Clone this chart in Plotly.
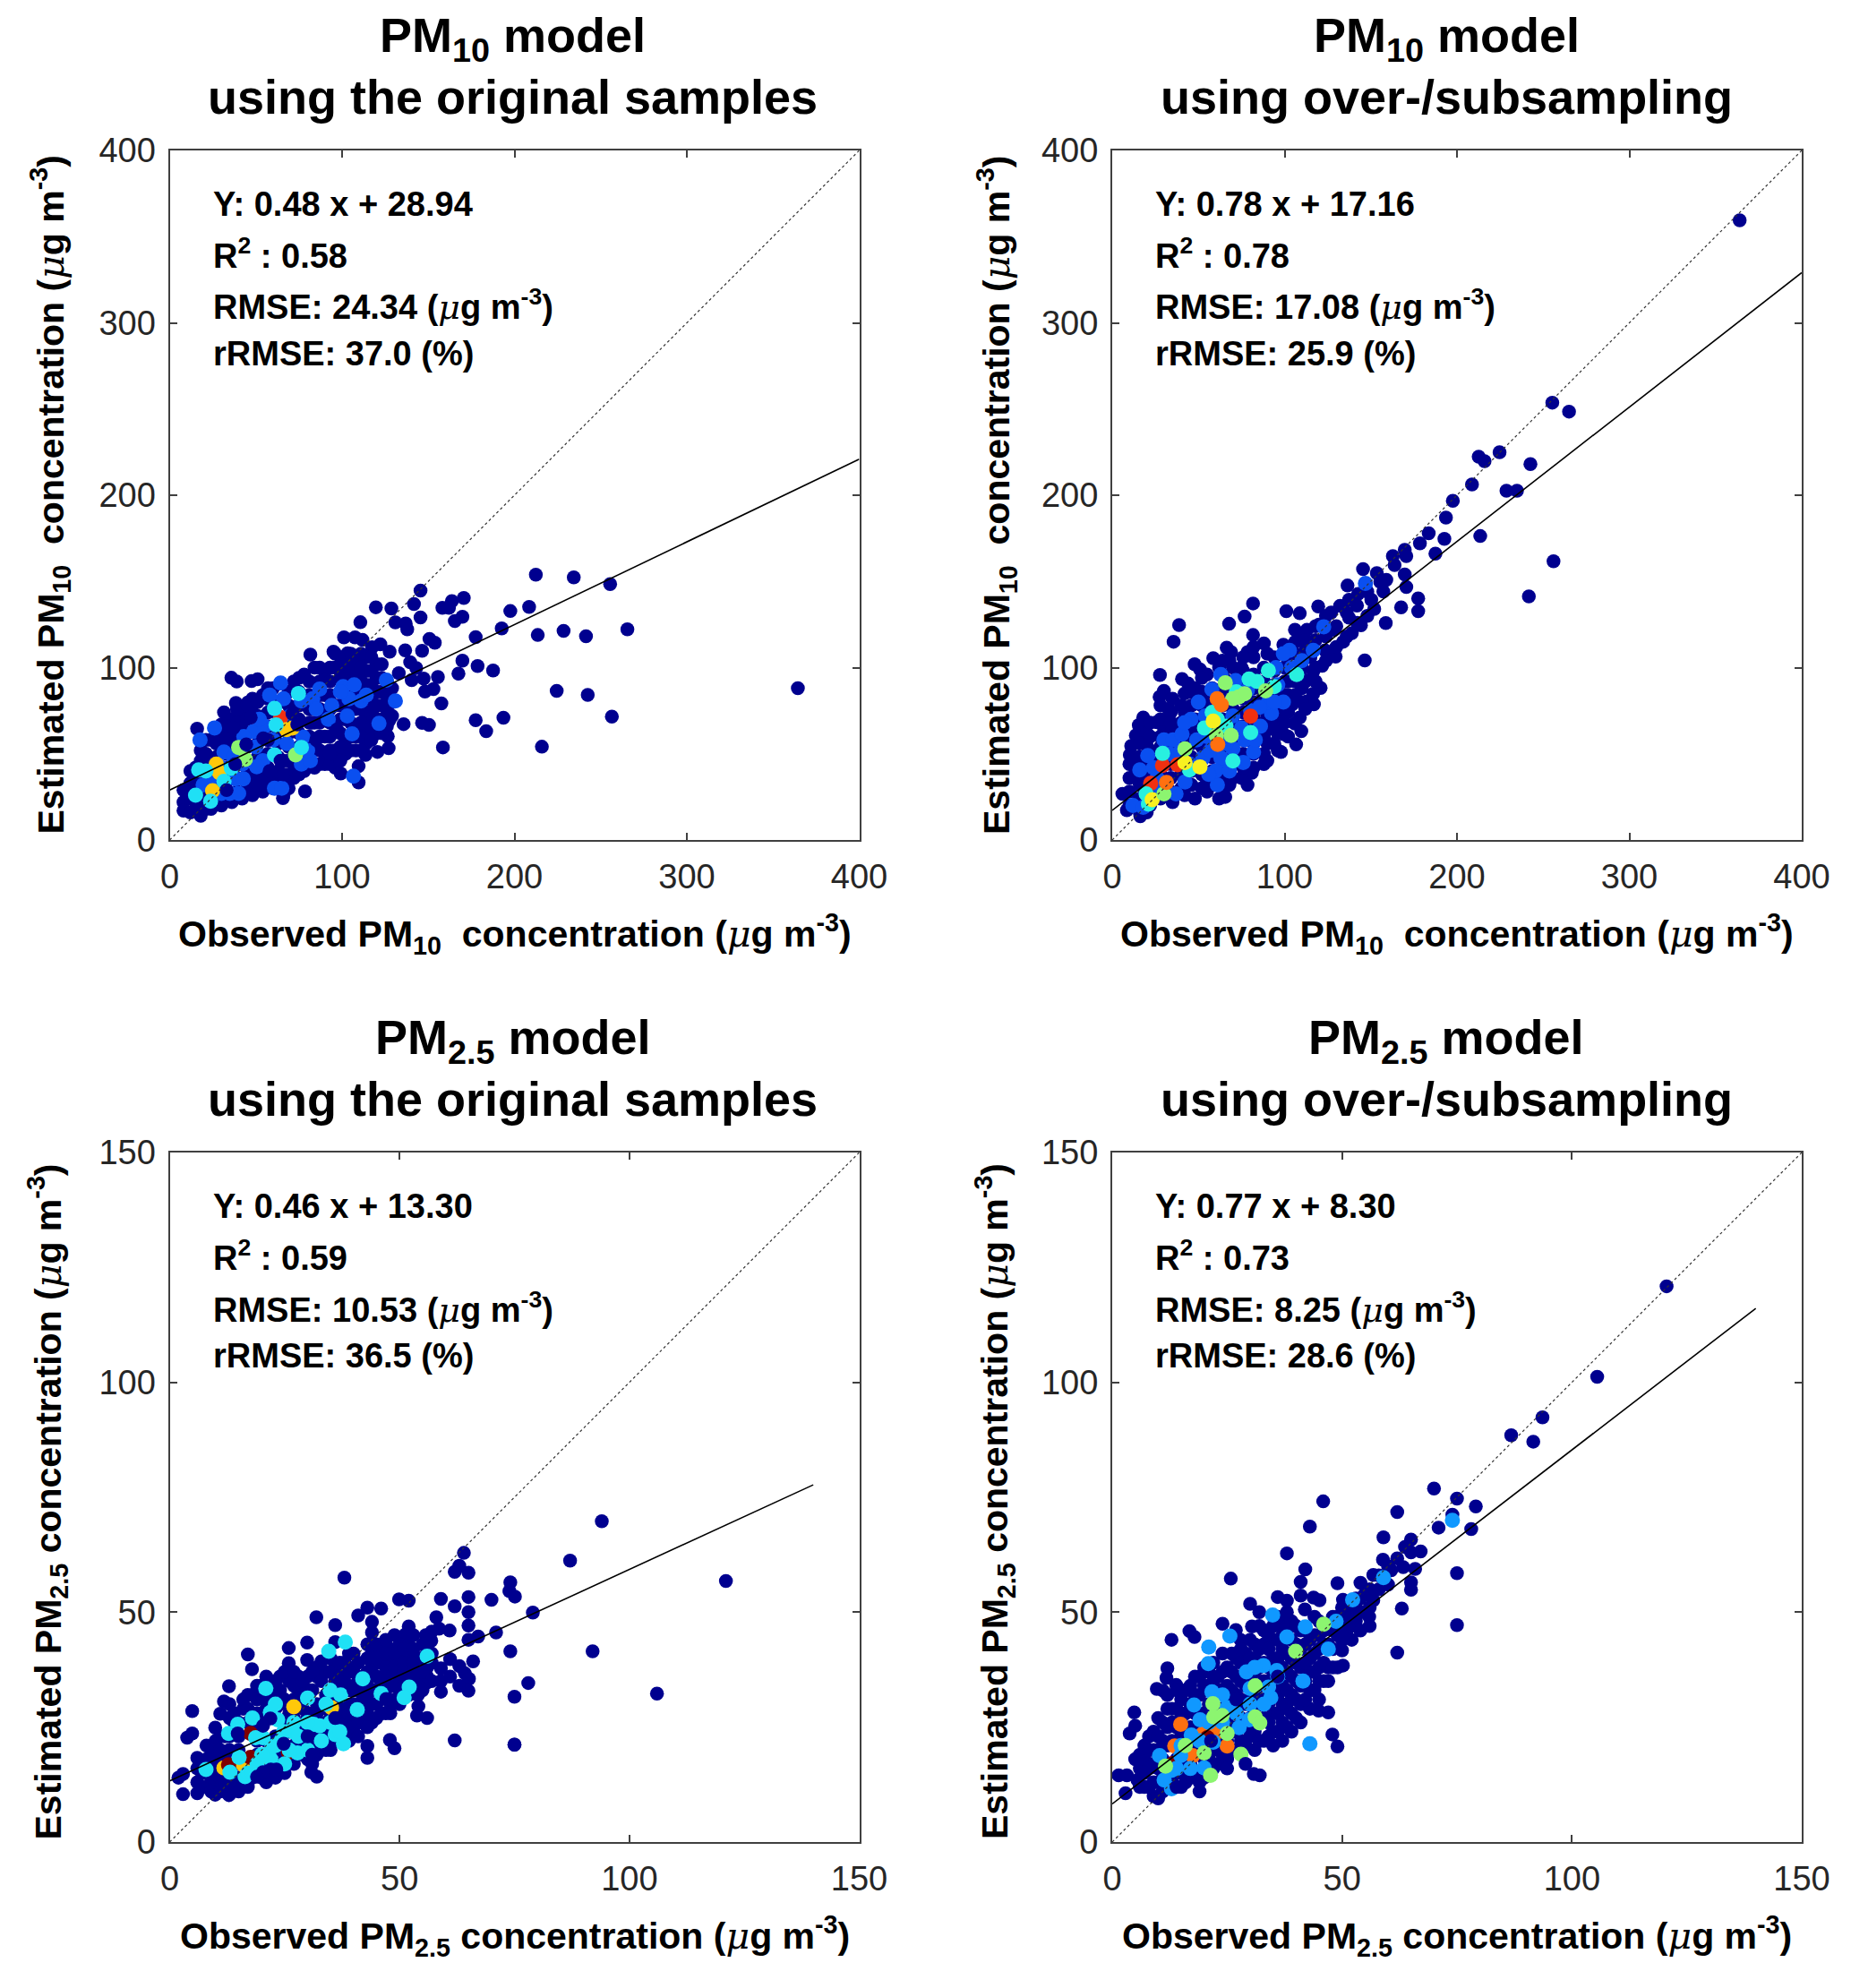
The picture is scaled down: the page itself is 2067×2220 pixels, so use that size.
"""Observed vs estimated PM10 / PM2.5 scatter panels, coloured by point density."""

import plotly.graph_objects as go
from plotly.subplots import make_subplots

FIG_W = 2067
FIG_H = 2220

NAVY = "#00008f"
BLUE = "#0a4ff0"
SKY = "#1098ff"
CYAN = "#1fe0f5"
AQUA = "#28f0e0"
GREEN = "#8cf570"
YELLOW = "#f8f020"
AMBER = "#ffc80a"
ORANGE = "#ff7010"
RED = "#f03010"
MAROON = "#800000"

# ---- PM10, original samples ----
PM10_ORIG_NAVY = [
    (212.4, 153.9), (234.4, 152.3), (145.5, 144.7), (170.6, 140.4), (163.7, 138.6), (158.2, 134.7), (162, 134.7),
    (141.7, 136.9), (119.6, 135), (128.6, 134.3), (208.5, 135.2), (197.6, 132.8), (145.5, 129.1), (169.8, 129.5),
    (165.4, 127), (110.6, 126.3), (130.9, 126.2), (136.9, 125.6), (192.6, 122.7), (137.8, 122.2), (213.5, 118.9),
    (228.5, 121.3), (241.5, 118.2), (255.5, 148.4), (265.5, 122.2), (224.5, 86.5), (242.5, 84.2), (256.5, 71.6),
    (215.9, 54.1), (364.4, 88), (177.5, 117.7), (193.6, 70.9), (183.6, 63.1), (177.5, 69.5), (187.6, 98.3),
    (178.6, 100.9), (169.8, 104), (167.5, 96.5), (155.6, 94.5), (157.6, 79.2), (153, 87.5), (148.1, 86.1),
    (158.5, 53.7), (150.4, 66.7), (146.4, 67.9), (135.7, 67.2), (150.7, 116.6), (153.8, 114.4), (146.4, 109.7),
    (127.6, 109.2), (122.2, 113.5), (117.4, 111.8), (111.8, 116.1), (107.5, 117.5), (101.1, 117.5), (81.6, 107.5),
    (95, 109.2), (103.2, 108.3), (136.6, 110), (139.5, 103.1), (143, 99.7), (132.9, 96.7), (140.4, 92.7),
    (147.3, 93.6), (127.4, 69.3), (126.5, 60.1), (127, 53.2), (120.5, 51.1), (113.6, 49.4), (109.6, 42.8),
    (109.6, 33.4), (99.2, 38.6), (78.5, 28.2), (65.7, 24.3), (35.8, 94.1), (38.9, 91.9), (47.5, 92.2), (51, 93.2),
    (15.9, 64.6), (31.5, 74), (38.4, 79.5), (45.3, 79.7),
    (8, 22), (8, 29), (8, 17), (12, 16), (12, 24), (12, 33), (12, 40), (18, 14), (18, 22), (18, 30), (18, 38),
    (18, 46), (18, 52), (24, 18), (24, 44), (24, 58), (30, 20), (30, 52), (30, 60), (30, 67), (36, 22), (36, 56),
    (36, 62), (36, 70), (42, 24), (42, 64), (42, 72), (48, 26), (48, 34), (48, 74), (48, 82), (54, 28), (54, 36),
    (54, 42), (54, 84), (60, 30), (60, 38), (60, 88), (66, 26), (66, 34), (66, 46), (72, 36), (72, 44), (72, 52),
    (72, 92), (78, 40), (78, 50), (78, 96), (84, 42), (84, 56), (84, 68), (84, 100), (90, 44), (90, 50), (90, 60),
    (90, 72), (90, 84), (90, 94), (96, 42), (96, 52), (96, 66), (96, 78), (96, 100), (96, 108), (102, 50), (102, 58),
    (102, 70), (102, 82), (102, 90), (102, 98), (102, 106), (108, 52), (108, 60), (108, 66), (108, 76), (108, 86),
    (108, 94), (108, 102), (114, 56), (114, 64), (114, 72), (114, 82), (114, 90), (114, 98), (114, 106), (120, 62),
    (120, 70), (120, 78), (120, 86), (120, 94), (120, 102), (126, 66), (126, 76), (126, 84), (126, 92),
    (15, 18), (15, 26), (15, 34), (15, 42), (21, 18), (21, 26), (21, 34), (21, 42), (21, 50), (21, 58), (27, 24), (27, 32),
    (27, 40), (27, 48), (27, 56), (27, 64), (33, 26), (33, 34), (33, 42), (33, 50), (33, 58), (33, 66), (39, 28), (39, 36),
    (39, 44), (39, 52), (39, 60), (39, 68), (39, 76), (45, 30), (45, 38), (45, 46), (45, 54), (45, 62), (45, 70), (45, 78),
    (51, 32), (51, 40), (51, 48), (51, 56), (51, 64), (51, 72), (51, 80), (57, 34), (57, 42), (57, 50), (57, 58), (57, 66),
    (57, 74), (57, 82), (57, 88), (63, 32), (63, 40), (63, 48), (63, 56), (63, 64), (63, 72), (63, 80), (69, 30), (69, 38),
    (69, 46), (69, 54), (69, 62), (69, 70), (69, 78), (69, 86), (75, 38), (75, 46), (75, 54), (75, 62), (75, 70), (75, 78),
    (75, 86), (75, 94), (81, 44), (81, 52), (81, 60), (81, 68), (81, 76), (81, 84), (81, 92), (87, 44), (87, 52), (87, 60),
    (87, 68), (87, 76), (87, 84), (87, 92), (87, 100), (93, 44), (93, 52), (93, 60), (93, 68), (93, 76), (93, 84), (93, 92),
    (93, 100), (99, 46), (99, 54), (99, 62), (99, 70), (99, 78), (99, 86), (99, 94), (99, 102), (105, 52), (105, 60),
    (105, 68), (105, 76), (105, 84), (105, 92), (105, 100), (105, 108), (111, 52), (111, 60), (111, 68), (111, 76), (111, 84),
    (111, 92), (111, 100), (111, 108), (117, 58), (117, 66), (117, 74), (117, 82), (117, 90), (117, 98), (117, 106), (123, 62),
    (123, 70), (123, 78), (123, 86), (123, 94), (123, 102), (129, 72), (129, 80), (129, 88),
]
PM10_ORIG_BLUE = [
    (66, 82), (64.3, 91), (48.7, 63), (31.5, 51), (38, 35.5), (42.7, 35.5), (60.8, 30), (65, 30), (35, 27), (40, 27),
    (19.4, 32), (26, 65), (17.6, 58), (100.6, 89), (104, 82), (99, 86), (105.8, 61.5), (106.6, 37), (121.4, 67.6),
    (130.9, 80.6), (125.7, 92.7), (76.4, 44), (81.6, 46), (77.3, 59.8), (92, 70), (111, 80.6), (83, 82), (54, 46),
    (50.5, 42.5), (76.4, 80.6), (87, 87.5), (43, 60), (70, 72), (30, 27), (26, 36), (37, 48), (30, 42), (55, 66), (50, 54),
    (68, 56), (60, 58), (85, 76), (94, 78), (103, 72), (114, 84), (80, 52), (42, 44), (58, 84), (52, 70), (107, 90),
]
PM10_ORIG_CYAN = [
    (74.7, 85), (60.8, 76.3), (60.8, 49.4), (76.4, 53.7), (61.7, 66.7), (16.8, 40.7), (21, 40), (31.5, 34),
    (35.8, 41.6), (23.7, 22.5), (15, 26),
]
PM10_ORIG_GREEN = [(40, 53.7), (43.9, 46.8), (73, 49.4)]
PM10_ORIG_RED = [(64.3, 71)]
PM10_ORIG_AMBER = [(67.8, 64), (71.2, 65), (28.9, 39), (24.9, 28.6), (27, 44)]
PM10_ORIG_TOP = [
    (71.2, 73.3), (44.4, 55.5), (64.3, 46), (54.3, 59), (38, 44), (33, 29), (58, 40), (66, 38), (85, 58), (93, 50), (74, 67),
    (82, 68), (97, 64), (118, 76), (57, 58), (47, 71), (37, 65),
]

# ---- PM10, over-/subsampling ----
PM10_OVER_NAVY = [
    (364, 359.5), (212.6, 222.3), (216, 219.7), (224.7, 224.9), (242.6, 218), (208.7, 206.2), (228.7, 202.6),
    (234.8, 202.6), (197.6, 196.7), (193.6, 187), (183.6, 177.9), (178.5, 172.1), (192.7, 174.7), (187.5, 166.1),
    (213.5, 176.3), (241.7, 141.3), (256, 161.7), (255.3, 253.7), (265, 248.5), (162.8, 164.7), (169.7, 168.3),
    (170.6, 164.7), (163.8, 159.5), (169.7, 154), (145.5, 157.1), (153.5, 154.8), (159, 150.9), (155.5, 149.7),
    (136.5, 147.6), (157.3, 144.1), (170.6, 146.7), (177.5, 140.1), (177.5, 132.7), (167.6, 134.9), (152, 134),
    (158.7, 125.8), (150.3, 139.3), (146.5, 104.2), (119.5, 135.5), (101, 132.7), (108.8, 131.5), (81.7, 137.2),
    (76.8, 129.6), (67.8, 125.4), (38.8, 124.7), (35.6, 115), (27.7, 95.7), (47.8, 102), (50.9, 99), (40.5, 93.4),
    (44, 90.8), (58.6, 105.5), (66.4, 111.6), (69, 109), (81.7, 118.9), (88, 114), (78.5, 109), (120.9, 88.2),
    (116.6, 84.8), (117, 78.7), (108.8, 71), (109.7, 63.1), (106.7, 55.4), (106, 67.5), (97.9, 51), (99.3, 61.4),
    (88, 44), (81, 39), (78.5, 32), (65.6, 25), (5.9, 26.8), (16.3, 13.8), (8.5, 17.3), (18, 71), (15.4, 66.6),
    (13.7, 60.6), (11, 54.5), (10.2, 49.3), (12.8, 42.4), (30, 86.5), (27.5, 83), (32.7, 76), (25.8, 68.3), (30, 65),
    (109.7, 118.5), (120, 125), (127, 132), (132.2, 135.8), (137.4, 139.3), (142.6, 142.7), (113, 122), (115, 106),
    (123.5, 110), (129.6, 106.4), (121.8, 101), (134, 115), (139, 120), (144.3, 124.6), (137.4, 128.9), (128.7, 122),
    (106.2, 115), (99.3, 113.3), (109.7, 106.4), (101, 101), (116.6, 97.8), (109.7, 94.3), (113, 80.4), (104.5, 78.7),
    (15, 22), (15, 35), (15, 48), (20, 16), (20, 28), (20, 42), (20, 55), (20, 62), (28, 24), (28, 60), (28, 70),
    (28, 78), (35, 22), (35, 65), (35, 82), (42, 26), (42, 60), (42, 74), (42, 85), (48, 24), (48, 70), (48, 88),
    (55, 28), (55, 34), (55, 80), (55, 96), (62, 24), (62, 32), (62, 84), (62, 100), (68, 32), (68, 40), (68, 92),
    (68, 104), (75, 36), (75, 46), (75, 100), (82, 42), (82, 50), (82, 106), (82, 112), (90, 46), (90, 56), (90, 64),
    (90, 72), (90, 108), (96, 52), (96, 62), (96, 70), (96, 78), (96, 86), (102, 60), (102, 74), (102, 84), (102, 92),
    (102, 108), (110, 80), (110, 88), (110, 100),
    (10, 20), (10, 28), (10, 36), (10, 44), (16, 16), (16, 24), (16, 32), (16, 40), (16, 48), (16, 56), (22, 20), (22, 28),
    (22, 36), (22, 44), (22, 52), (22, 60), (22, 68), (28, 30), (28, 38), (28, 46), (28, 54), (34, 28), (34, 36), (34, 44),
    (34, 52), (34, 60), (34, 68), (34, 74), (40, 30), (40, 38), (40, 46), (40, 54), (40, 68), (40, 78), (46, 32), (46, 40),
    (46, 48), (46, 56), (46, 64), (46, 78), (46, 86), (52, 30), (52, 38), (52, 46), (52, 54), (52, 62), (52, 70), (52, 78),
    (52, 86), (52, 94), (58, 32), (58, 40), (58, 48), (58, 56), (58, 64), (58, 72), (58, 80), (58, 88), (64, 30), (64, 38),
    (64, 46), (64, 54), (64, 62), (64, 70), (64, 78), (64, 88), (64, 96), (64, 104), (70, 36), (70, 44), (70, 52), (70, 60),
    (70, 68), (70, 76), (70, 84), (70, 100), (76, 42), (76, 50), (76, 58), (76, 66), (76, 74), (76, 82), (76, 90), (76, 98),
    (76, 106), (82, 56), (82, 64), (82, 72), (82, 80), (82, 88), (82, 96), (88, 50), (88, 60), (88, 68), (88, 76), (88, 84),
    (88, 92), (88, 100), (94, 56), (94, 66), (94, 74), (94, 82), (94, 90), (94, 98), (94, 106), (100, 68), (100, 76), (100, 84),
    (100, 92), (100, 100), (106, 84), (106, 92), (106, 100), (106, 108), (106, 122), (112, 76), (112, 92), (112, 110), (112, 116),
    (118, 92), (118, 100), (118, 116), (118, 124), (124, 104), (124, 118), (124, 130), (130, 112), (130, 124), (136, 118),
    (136, 132), (142, 126), (142, 136), (148, 130), (148, 144),
]
PM10_OVER_BLUE = [
    (45.7, 70), (30, 58), (20.6, 49), (16, 40.7), (61, 32), (76, 45), (76.8, 58), (64.7, 46), (92.4, 73.5), (99.3, 80),
    (90.7, 80), (80.3, 75), (102.8, 110), (99.3, 108), (116.6, 110), (122.7, 123.7), (42.2, 33.7), (37, 26.8), (63, 96),
    (57.8, 87.4), (52.6, 47.6), (63, 47.6), (49, 58), (75, 65), (82, 51), (35.3, 58), (40.5, 61.4), (78.5, 87),
    (71.6, 92.5), (85.5, 77), (94, 80), (70, 53), (146.9, 148.8), (12, 20), (18, 19), (24, 42), (38, 45), (55, 60),
    (60, 40), (70, 72), (50, 80), (26, 36), (33, 50), (45, 44), (57, 52), (68, 40), (86, 66), (83, 58), (96, 90), (104, 100),
    (66, 56), (54, 72), (40, 52), (28, 30), (56, 38), (42, 68), (95, 100), (110, 104),
]
PM10_OVER_AQUA = [
    (90.6, 98.3), (107, 96), (79.4, 93.4), (29.2, 50.2), (44.8, 40.7), (19.7, 26.8), (21, 20.8), (53.5, 65), (61, 70),
    (80.3, 62.3), (70, 45.8), (84, 92), (72, 86), (58, 74), (66, 66), (94, 89),
]
PM10_OVER_RED = [(29.2, 43.3), (37.9, 43.6), (80.3, 71.8), (22.3, 32.9)]
PM10_OVER_GREEN = [
    (65.6, 91.2), (73.4, 83), (76.8, 84.8), (70, 82), (89, 86.5), (30, 26.8), (60.4, 60.6), (69, 60.6), (42.2, 52.8),
]
PM10_OVER_YELLOW = [(23.2, 23.4), (42.2, 45), (50.9, 42.4), (58.6, 69)]
PM10_OVER_ORANGE = [(60.9, 82), (63.3, 78.4), (61.2, 55.4), (31.5, 33.4)]

# ---- PM2.5, original samples ----
PM25_ORIG_NAVY = [
    (64, 62.9), (63, 60.1), (62, 58.8), (65, 58.6), (38, 57.5), (87.1, 61.2), (74.1, 56.5), (73.9, 54.6), (75.1, 53.4),
    (70, 52.7), (59, 52.9), (49.9, 52.8), (52, 52.5), (62, 51.3), (65, 53.3), (65, 50), (46, 50.8), (43, 51), (58, 48.9),
    (41, 49.3), (79, 49.9), (31.9, 48.9), (36, 47.2), (44, 47.9), (44, 45.6), (52, 46.9), (65, 47.1), (71, 45.6),
    (67.1, 44.7), (65, 44), (60.9, 46), (58.6, 46.4), (57, 45.8), (55.7, 45), (56.9, 43.8), (48.9, 45), (51.2, 45.1),
    (74.1, 41.5), (66, 39.3), (61, 39.8), (63, 38.3), (59, 37.8), (64.2, 36.7), (65.1, 35.5), (63, 34), (65, 32.9),
    (59, 32.7), (78, 34.6), (75, 31.6), (62, 22.1), (75, 21.2), (56, 27), (53.8, 27.5), (54.1, 29.5), (56, 34.7),
    (48.9, 20.4), (47.9, 22.2), (43, 18.3), (43, 20.9), (32, 14.2), (30.8, 15.2), (26, 17.4), (17, 40.8), (17.9, 37.6),
    (25.9, 42.2), (25.9, 38.9), (29.9, 43.4), (29.9, 39.6), (36, 43.5), (33, 39.3), (12.9, 33.9), (11.8, 30.6), (11, 27.9),
    (4.9, 28.5), (4.9, 23.6), (3.8, 22.7), (9.9, 24.9), (6, 18.3), (1.9, 14), (2.9, 14.8), (2.9, 10.4), (6, 10.6),
    (9.9, 10.3), (12.9, 10.2), (15.9, 12.7), (106, 32.3), (92, 41.5), (94, 69.8), (121, 56.8), (75, 21.2),
    (6, 13), (6, 16), (8, 12), (8, 15), (8, 18), (8, 21), (10, 13), (10, 16), (10, 19), (10, 22), (12, 12), (12, 15),
    (12, 19), (12, 23), (14, 13), (14, 26), (14, 28), (16, 29), (16, 31), (18, 14), (18, 28), (18, 32), (20, 14), (20, 16),
    (20, 26), (20, 34), (22, 15), (22, 16), (22, 28), (22, 32), (22, 35), (24, 30), (24, 33), (24, 36), (26, 19), (26, 24),
    (26, 28), (26, 35), (28, 20), (28, 22), (28, 30), (28, 33), (28, 36), (30, 18), (30, 21), (30, 27), (30, 33), (30, 36),
    (32, 19), (32, 23), (32, 28), (32, 30), (32, 36), (32, 38), (34, 20), (34, 22), (34, 26), (34, 32), (34, 37), (36, 22),
    (36, 27), (36, 30), (36, 33), (36, 35), (36, 38), (38, 23), (38, 26), (38, 30), (38, 35), (38, 39), (40, 24), (40, 27),
    (40, 30), (40, 34), (40, 38), (40, 41), (42, 26), (42, 29), (42, 32), (42, 36), (44, 26), (44, 30), (44, 33), (44, 38),
    (44, 41), (46, 28), (46, 32), (46, 35), (46, 39), (46, 42), (48, 28), (48, 30), (48, 34), (48, 37), (48, 40), (48, 42),
    (50, 30), (50, 33), (50, 36), (50, 38), (50, 40), (50, 43), (52, 32), (52, 36), (52, 38), (52, 41), (52, 43), (54, 32),
    (54, 35), (54, 37), (54, 40), (56, 36), (56, 38), (56, 41),
    (7, 12), (7, 15), (9, 11), (9, 14), (9, 17), (9, 20), (11, 11), (11, 14), (11, 17), (11, 20), (11, 23), (13, 11), (13, 14),
    (13, 17), (13, 20), (13, 23), (13, 27), (13, 30), (15, 11), (15, 14), (15, 17), (15, 20), (15, 23), (15, 26), (17, 12), (17, 15),
    (17, 26), (17, 29), (17, 32), (19, 16), (19, 19), (19, 22), (19, 25), (19, 28), (19, 31), (19, 34), (21, 13), (21, 19), (21, 22),
    (21, 29), (21, 31), (21, 36), (23, 14), (23, 17), (23, 20), (23, 23), (23, 29), (23, 35), (25, 15), (25, 19), (25, 26), (25, 31),
    (25, 37), (27, 17), (27, 21), (27, 27), (27, 31), (27, 34), (27, 37), (29, 19), (29, 25), (29, 29), (29, 35), (31, 17), (31, 20),
    (31, 23), (31, 28), (31, 33), (31, 37), (33, 21), (33, 24), (33, 29), (33, 35), (35, 20), (35, 25), (35, 28), (35, 31), (35, 37),
    (35, 40), (37, 24), (37, 28), (37, 33), (37, 36), (37, 39), (39, 22), (39, 25), (39, 28), (39, 33), (39, 37), (39, 41), (41, 23),
    (41, 26), (41, 30), (41, 33), (41, 36), (41, 39), (43, 25), (43, 28), (43, 31), (43, 34), (43, 37), (43, 40), (43, 43), (45, 27),
    (45, 30), (45, 33), (45, 36), (45, 40), (45, 43), (47, 28), (47, 33), (47, 36), (47, 38), (47, 41), (47, 44), (49, 31), (49, 34),
    (49, 38), (49, 41), (51, 34), (51, 37), (51, 39), (51, 42), (53, 33), (53, 36), (53, 39), (53, 42), (53, 45), (55, 33), (55, 37),
    (55, 40), (55, 43), (57, 35), (57, 39), (57, 41), (59, 35), (61, 36),
]
PM25_ORIG_AMBER = [(27, 29.4), (19.8, 18.4), (11.8, 16.1), (16, 16.8), (35.2, 29.2)]
PM25_ORIG_MAROON = [(17.6, 23.6), (17.6, 18.4), (12.8, 16.8), (25.8, 19.5)]
PM25_ORIG_CYAN = [
    (38.2, 43.5), (34.6, 41.5), (20.9, 33.4), (30, 31.3), (34.9, 33), (37.2, 32), (42, 35.5), (46, 32.3), (52.1, 33.7),
    (51, 31.4), (56, 40.4), (36, 23.4), (37.8, 21.4), (40.8, 28.8), (21.9, 28.2), (31.3, 25.6), (32.6, 25.3), (26.8, 24),
    (24.8, 24), (23.5, 26.6), (14.8, 25.6), (12.8, 23.6), (20.3, 22.7), (22.2, 20.7), (24.2, 22), (15.1, 18.4), (13.1, 15.2),
    (16.4, 14.2), (7.9, 15.8), (27.8, 19.4), (18.7, 22.7), (17, 15), (19, 17), (22, 18), (25, 17), (28, 23), (30, 26), (33, 22),
    (30, 20), (35, 26), (27, 26), (23, 21), (20, 19), (18, 15), (26, 20), (37, 24), (34, 30), (23, 30), (18, 27),
]
PM25_ORIG_TOP = [
    (21.9, 26.9), (20.3, 25.3), (24.8, 21.4), (47.1, 31.1), (14.8, 23.6), (22, 15.8), (23.2, 15.8), (20.3, 15.2), (19, 14.2),
    (31, 19), (30, 23), (36, 27), (40, 33),
]

# ---- PM2.5, over-/subsampling ----
PM25_OVER_NAVY = [
    (120.6, 120.9), (105.5, 101.2), (93.6, 92.4), (91.6, 87.1), (86.8, 88.5), (70, 76.9), (75, 74.7), (45.9, 74.1), (79.1, 73),
    (74, 71.2), (62, 71.8), (43, 68.6), (71, 68.4), (78.1, 68.1), (59, 66.3), (65, 65.8), (63.7, 64.2), (65, 63), (67.1, 63.2),
    (38, 62.8), (42, 59.3), (41, 56.6), (25.8, 57.3), (75, 58.5), (58.9, 61.4), (62, 61.7), (60.7, 59.1), (63.3, 59.8), (65.9, 59.4),
    (65, 56.5), (65, 54.9), (63, 50.8), (75, 47.2), (62, 41.2), (56.8, 58.1), (54, 56.4), (49, 56.3), (41, 53.6), (36, 53.3),
    (38, 52.5), (30, 51.8), (32, 50), (24, 47.5), (26.9, 46.1), (27.9, 44), (16.8, 45.9), (17.9, 44.6), (12.9, 44), (12, 37.8),
    (11.8, 35.7), (13.9, 34.2), (9.7, 33.3), (11.1, 32.9), (4.8, 28.2), (5, 25.3), (3.8, 23.6), (1.4, 14.5), (3.2, 14.5), (2.9, 10.6),
    (10, 9.5), (30.8, 14.8), (32.1, 14.5), (49, 20.8), (47.9, 23.4), (47, 28.2), (44.9, 28.6), (49, 38), (50.2, 38.4), (50, 41.7),
    (52.1, 44), (51.6, 49), (55.9, 49), (56, 47), (56.8, 52.6), (50.2, 52.7), (45.1, 52.6), (43.8, 53.2), (41.9, 50.6), (30.4, 46.9),
    (36, 47.3), (37.3, 48.6),
    (5, 18), (6, 16), (5.5, 13.5), (7, 12), (7, 15), (7, 18), (7, 21), (9, 10), (9, 13), (9, 17), (9, 20), (9, 24), (11, 11), (11, 14),
    (11, 18), (11, 22), (11, 26), (13, 13), (13, 17), (13, 22), (13, 26), (13, 29), (15, 12), (15, 15), (15, 19), (15, 23), (15, 27),
    (15, 31), (17, 14), (17, 17), (17, 21), (17, 25), (17, 30), (17, 34), (19, 13), (19, 21), (19, 26), (19, 32), (19, 36), (21, 15),
    (21, 18), (21, 24), (21, 30), (21, 34), (21, 37), (23, 17), (23, 21), (23, 26), (23, 33), (23, 36), (25, 18), (25, 22), (25, 27),
    (25, 31), (25, 34), (25, 38), (27, 20), (27, 24), (27, 28), (27, 32), (27, 36), (27, 40), (29, 21), (29, 25), (29, 30), (29, 34),
    (29, 38), (29, 41), (31, 20), (31, 24), (31, 29), (31, 33), (31, 37), (31, 40), (31, 43), (33, 22), (33, 27), (33, 31), (33, 35),
    (33, 39), (33, 43), (33, 46), (35, 21), (35, 24), (35, 28), (35, 32), (35, 36), (35, 40), (35, 44), (35, 47), (37, 22), (37, 26),
    (37, 30), (37, 34), (37, 38), (37, 42), (37, 45), (39, 24), (39, 28), (39, 32), (39, 36), (39, 40), (39, 44), (39, 48), (41, 26),
    (41, 30), (41, 34), (41, 38), (41, 42), (41, 46), (43, 29), (43, 33), (43, 37), (43, 40), (43, 44), (45, 31), (45, 35), (45, 38),
    (45, 42), (45, 45), (45, 48), (47, 35), (47, 38), (47, 43), (49, 45), (49, 49), (51, 46), (51, 50), (53, 48), (53, 51), (53, 53),
    (55, 50), (55, 54),
    (6, 12), (6, 19), (8, 12), (8, 16), (8, 20), (8, 23), (10, 13), (10, 16), (10, 20), (10, 23), (10, 27), (12, 13), (12, 17), (12, 21),
    (12, 25), (12, 29), (12, 32), (14, 15), (14, 18), (14, 21), (14, 25), (14, 29), (14, 33), (16, 13), (16, 17), (16, 20), (16, 24),
    (16, 28), (16, 33), (18, 15), (18, 19), (18, 23), (18, 28), (18, 32), (18, 36), (20, 14), (20, 18), (20, 23), (20, 28), (20, 34),
    (20, 38), (22, 16), (22, 20), (22, 24), (22, 29), (22, 35), (22, 39), (24, 19), (24, 23), (24, 29), (24, 33), (24, 37), (24, 41),
    (26, 20), (26, 25), (26, 29), (26, 33), (26, 37), (26, 41), (28, 22), (28, 27), (28, 31), (28, 35), (28, 39), (28, 42), (30, 23),
    (30, 27), (30, 31), (30, 36), (30, 40), (30, 44), (32, 22), (32, 26), (32, 30), (32, 34), (32, 38), (32, 42), (32, 47), (34, 23),
    (34, 26), (34, 30), (34, 34), (34, 38), (34, 42), (34, 45), (36, 24), (36, 28), (36, 32), (36, 36), (36, 40), (36, 44), (36, 49),
    (38, 25), (38, 29), (38, 33), (38, 37), (38, 41), (38, 46), (38, 50), (40, 27), (40, 31), (40, 35), (40, 39), (40, 43), (40, 47),
    (42, 31), (42, 35), (42, 39), (42, 43), (42, 46), (44, 33), (44, 37), (44, 41), (44, 45), (44, 49), (46, 35), (46, 39), (46, 43),
    (46, 46), (48, 38), (48, 42), (48, 46), (48, 49), (50, 44), (50, 47), (50, 51), (52, 47), (52, 49), (52, 52), (54, 46), (54, 50),
    (54, 53), (56, 51), (56, 55), (58, 55), (58, 58), (60, 56), (60, 60),
]
PM25_OVER_SKY = [
    (34.9, 49.4), (38, 44.6), (42, 46.8), (47, 42), (21, 42.4), (20.9, 38.8), (25.6, 44.8), (32.9, 38.4), (35.8, 37.3), (29.2, 37),
    (30, 33.4), (34.5, 31.4), (34, 33.7), (21.7, 32.7), (17.8, 29.8), (25, 29.2), (29.8, 26.6), (27.6, 24.9), (17.2, 23.3), (22, 21.7),
    (10.3, 18.8), (14.9, 18.8), (20, 16.1), (12.9, 15.6), (12.9, 11.6), (11.3, 13.5), (48.7, 48), (52.3, 52.7), (41.5, 35), (74, 70),
    (59, 57.5), (43, 21.4), (19.1, 26.6), (14, 16), (17, 16), (19, 22), (15, 21), (21, 26), (24, 26), (27, 28), (30, 30), (33, 30),
    (36, 36), (31, 38), (24, 32),
]
PM25_OVER_ORANGE = [(14.9, 25.6), (25, 20.9), (19.8, 23.6), (22.4, 23.6), (17.5, 18.8), (13.6, 20.9)]
PM25_OVER_MAROON = [(13.3, 17.1), (20.7, 22.7)]
PM25_OVER_GREEN = [
    (46, 47.4), (39.9, 41.5), (21.9, 30.1), (22.1, 27.2), (23.9, 27.5), (25, 23.6), (31.1, 27.2), (15.9, 21), (20, 19.4), (11.6, 16.5),
    (28, 19.1), (21.4, 14.5), (32.1, 25.9), (31.1, 34),
]
PM25_OVER_TOP = [(39, 31), (36, 36), (27, 31), (19, 11), (29, 17), (25, 16), (21.5, 22), (14, 12)]

PM10_TICKS = [0, 100, 200, 300, 400]
PM25_TICKS = [0, 50, 100, 150]

FIT_PM10_ORIG = ([0, 400], [28.94, 220.94])
FIT_PM10_OVER = ([0, 400], [17.16, 329.16])
FIT_PM25_ORIG = ([0, 140], [13.30, 77.7])
FIT_PM25_OVER = ([0, 140], [8.30, 116.1])

UNIT = '(<span style="font-family:DejaVu Serif;font-weight:normal"><i>μ</i></span>g m<sup>-3</sup>)'
FONT = "Liberation Sans"

PANELS = [
    dict(row=1, col=1, left=189.5, top=168, limit=400, ticks=PM10_TICKS, fit=FIT_PM10_ORIG, title_dx=-2, ylabel_dx=-133, ylabel_dy=0,
         title=["PM<sub>10</sub> model", "using the original samples"],
         xlabel="Observed PM<sub>10</sub>  concentration " + UNIT,
         ylabel="Estimated PM<sub>10</sub>  concentration " + UNIT,
         stats=["Y: 0.48 x + 28.94", "R<sup>2</sup> : 0.58", "RMSE: 24.34 " + UNIT, "rRMSE: 37.0 (%)"],
         groups=[(PM10_ORIG_NAVY, NAVY), (PM10_ORIG_BLUE, BLUE), (PM10_ORIG_RED, RED), (PM10_ORIG_AMBER, AMBER),
                 (PM10_ORIG_GREEN, GREEN), (PM10_ORIG_CYAN, CYAN), (PM10_ORIG_TOP, NAVY)]),
    dict(row=1, col=2, left=1242, top=168, limit=400, ticks=PM10_TICKS, fit=FIT_PM10_OVER, title_dx=-12, ylabel_dx=-129, ylabel_dy=0,
         title=["PM<sub>10</sub> model", "using over-/subsampling"],
         xlabel="Observed PM<sub>10</sub>  concentration " + UNIT,
         ylabel="Estimated PM<sub>10</sub>  concentration " + UNIT,
         stats=["Y: 0.78 x + 17.16", "R<sup>2</sup> : 0.78", "RMSE: 17.08 " + UNIT, "rRMSE: 25.9 (%)"],
         groups=[(PM10_OVER_NAVY, NAVY), (PM10_OVER_BLUE, BLUE), (PM10_OVER_RED, RED), (PM10_OVER_AQUA, AQUA),
                 (PM10_OVER_YELLOW, YELLOW), (PM10_OVER_GREEN, GREEN), (PM10_OVER_ORANGE, ORANGE)]),
    dict(row=2, col=1, left=189.5, top=1287, limit=150, ticks=PM25_TICKS, fit=FIT_PM25_ORIG, title_dx=-2, ylabel_dx=-136, ylabel_dy=5,
         title=["PM<sub>2.5</sub> model", "using the original samples"],
         xlabel="Observed PM<sub>2.5</sub> concentration " + UNIT,
         ylabel="Estimated PM<sub>2.5</sub> concentration " + UNIT,
         stats=["Y: 0.46 x + 13.30", "R<sup>2</sup> : 0.59", "RMSE: 10.53 " + UNIT, "rRMSE: 36.5 (%)"],
         groups=[(PM25_ORIG_NAVY, NAVY), (PM25_ORIG_AMBER, AMBER), (PM25_ORIG_MAROON, MAROON),
                 (PM25_ORIG_CYAN, CYAN), (PM25_ORIG_TOP, NAVY)]),
    dict(row=2, col=2, left=1242, top=1287, limit=150, ticks=PM25_TICKS, fit=FIT_PM25_OVER, title_dx=-12, ylabel_dx=-131, ylabel_dy=5,
         title=["PM<sub>2.5</sub> model", "using over-/subsampling"],
         xlabel="Observed PM<sub>2.5</sub> concentration " + UNIT,
         ylabel="Estimated PM<sub>2.5</sub> concentration " + UNIT,
         stats=["Y: 0.77 x + 8.30", "R<sup>2</sup> : 0.73", "RMSE: 8.25 " + UNIT, "rRMSE: 28.6 (%)"],
         groups=[(PM25_OVER_NAVY, NAVY), (PM25_OVER_ORANGE, ORANGE), (PM25_OVER_MAROON, MAROON),
                 (PM25_OVER_SKY, SKY), (PM25_OVER_GREEN, GREEN), (PM25_OVER_TOP, NAVY)]),
]

AXIS_SIZE = 770


def paper_x(px):
    return px / FIG_W


def paper_y(py):
    return 1 - py / FIG_H


def add_text(fig, text, px, py, size, anchor="center", angle=0):
    fig.add_annotation(
        text=text, x=paper_x(px), y=paper_y(py), xref="paper", yref="paper", showarrow=False,
        xanchor=anchor, yanchor="middle", textangle=angle,
        font=dict(family=FONT, size=size, color="#000000"),
    )


fig = make_subplots(rows=2, cols=2)

for panel in PANELS:
    row, col = panel["row"], panel["col"]
    left, top, limit = panel["left"], panel["top"], panel["limit"]

    for points, colour in panel["groups"]:
        # the denser (non navy) points read slightly larger in the source
        size = 15.5 if colour == NAVY else 17
        fig.add_trace(go.Scatter(
            x=[p[0] for p in points], y=[p[1] for p in points], mode="markers",
            marker=dict(size=size, color=colour, line=dict(width=0)), showlegend=False,
        ), row=row, col=col)

    fig.add_trace(go.Scatter(
        x=[0, limit], y=[0, limit], mode="lines", showlegend=False,
        line=dict(color="#333333", width=1.2, dash="dot"),
    ), row=row, col=col)
    fig.add_trace(go.Scatter(
        x=panel["fit"][0], y=panel["fit"][1], mode="lines", showlegend=False,
        line=dict(color="#000000", width=1.6),
    ), row=row, col=col)

    axis_style = dict(
        range=[0, limit], tickvals=panel["ticks"], ticks="inside", ticklen=8, tickwidth=1.5,
        tickcolor="#404040", mirror="allticks", showline=True, linecolor="#404040", linewidth=2,
        showgrid=False, zeroline=False, ticklabelstandoff=6,
        tickfont=dict(family=FONT, size=38, color="#262626"),
    )
    fig.update_xaxes(domain=[paper_x(left), paper_x(left + AXIS_SIZE)], row=row, col=col, **axis_style)
    fig.update_yaxes(domain=[paper_y(top + AXIS_SIZE), paper_y(top)], row=row, col=col, **axis_style)

    centre = left + AXIS_SIZE / 2
    add_text(fig, "<b>" + panel["title"][0] + "</b>", centre + panel["title_dx"], top - 125, 54)
    add_text(fig, "<b>" + panel["title"][1] + "</b>", centre + panel["title_dx"], top - 60, 54)
    add_text(fig, "<b>" + panel["xlabel"] + "</b>", centre, top + 875, 41)
    add_text(fig, "<b>" + panel["ylabel"] + "</b>", left + panel["ylabel_dx"], top + 385 + panel["ylabel_dy"], 41, angle=-90)
    for text, offset in zip(panel["stats"], [60, 115, 173, 227]):
        add_text(fig, "<b>" + text + "</b>", left + 46, top + offset, 38, anchor="left")

fig.update_layout(
    width=FIG_W, height=FIG_H, margin=dict(l=0, r=0, t=0, b=0, autoexpand=False),
    paper_bgcolor="white", plot_bgcolor="white", showlegend=False,
)

fig.write_html("out.html", post_script="document.body.style.margin='0';", config={"displayModeBar": False})
